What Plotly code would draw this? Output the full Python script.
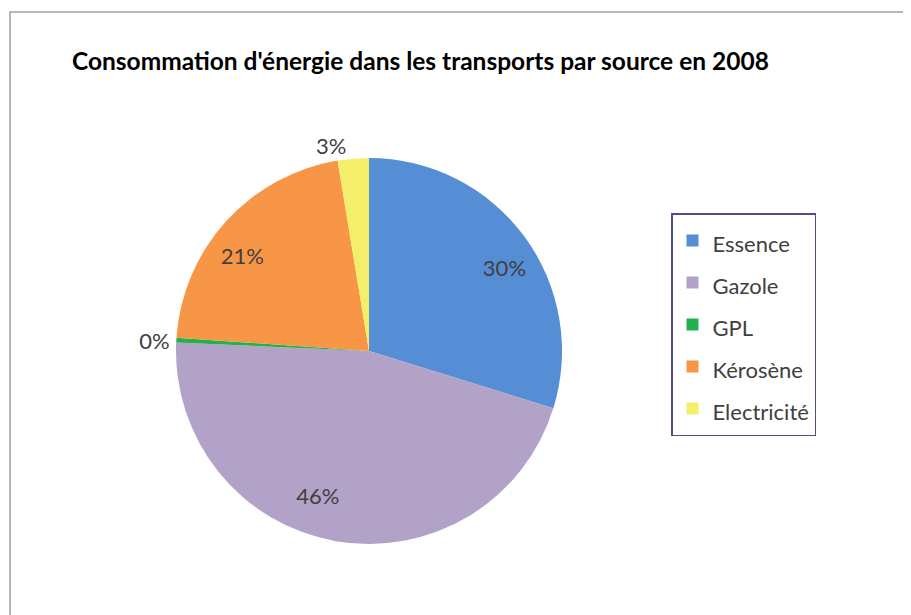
import plotly.graph_objects as go

labels = ["Essence", "Gazole", "GPL", "Kérosène", "Electricité"]
values = [29.8, 45.9, 0.4, 21.3, 2.6]
colors = ["#558ED5", "#B3A2C7", "#23B04F", "#F79646", "#F5EE6A"]
inner_labelled = [True, True, False, True, False]
title_text = "Consommation d'énergie dans les transports par source en 2008"

W, H = 911, 615
OFF = 8  # page body margin

def px_x(p):
    return (p - OFF) / W

def px_y(p):
    return 1 - (p - OFF) / H

cx, cy, R = 369, 351, 193
r_lab = 133

fig = go.Figure()
# main pie: slices + outside labels for the tiny slices
fig.add_trace(go.Pie(
    labels=[f'<span style="font-size:22px">{l}</span>' for l in labels],
    values=values,
    sort=False,
    direction="clockwise",
    rotation=0,
    marker=dict(colors=colors, line=dict(width=0)),
    texttemplate=["" if f else "%{percent:.0%}" for f in inner_labelled],
    textposition=["none" if f else "outside" for f in inner_labelled],
    textfont=dict(family="Lato", size=22, color="#404040"),
    domain=dict(x=[px_x(cx - R), px_x(cx + R)], y=[px_y(cy + R), px_y(cy - R)]),
    hoverinfo="label+percent",
))
# transparent overlay pie, used only to place the labels of the big slices
fig.add_trace(go.Pie(
    labels=labels,
    values=values,
    sort=False,
    direction="clockwise",
    rotation=0,
    marker=dict(colors=["rgba(0,0,0,0)"] * len(values), line=dict(width=0)),
    texttemplate=["%{percent:.0%}" if f else "" for f in inner_labelled],
    textposition=["outside" if f else "none" for f in inner_labelled],
    textfont=dict(family="Lato", size=22, color="#404040"),
    domain=dict(x=[px_x(cx - r_lab), px_x(cx + r_lab)],
                y=[px_y(cy + r_lab), px_y(cy - r_lab)]),
    showlegend=False,
    hoverinfo="skip",
))

fig.update_layout(
    width=W, height=H,
    margin=dict(l=0, r=0, t=0, b=0),
    paper_bgcolor="white",
    font=dict(family="Lato", color="#404040"),
    title=dict(text=f"<b>{title_text}</b>", x=px_x(72), xanchor="left",
               y=px_y(61), yanchor="middle",
               font=dict(family="Lato", size=24.5, color="#000000")),
    legend=dict(x=px_x(671), y=px_y(213), xanchor="left", yanchor="top",
                bordercolor="#4F4F8F", borderwidth=1.5,
                font=dict(family="Lato", size=30, color="#404040")),
    shapes=[dict(type="rect", xref="paper", yref="paper",
                 x0=px_x(10), x1=1.05, y0=-0.05, y1=px_y(12),
                 line=dict(color="#A0A0A0", width=1.5))],
)

fig.write_html("out.html")
